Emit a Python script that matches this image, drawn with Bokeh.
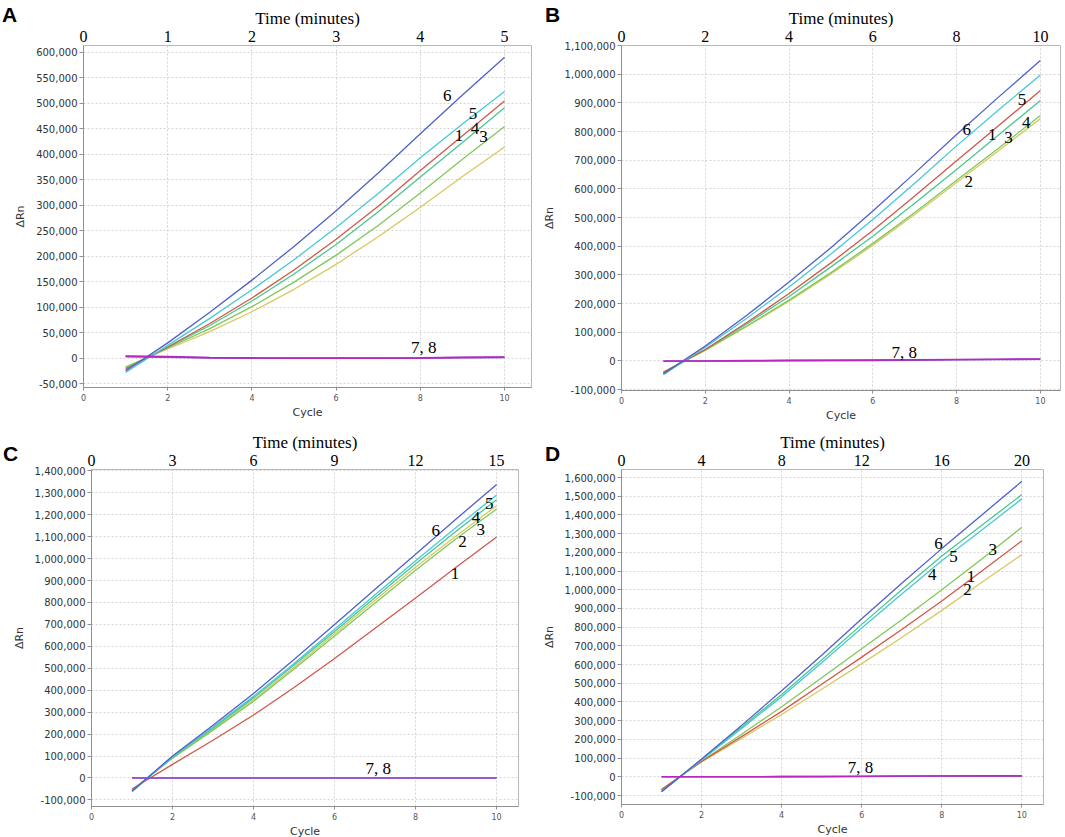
from bokeh.plotting import figure
from bokeh.layouts import column, row
from bokeh.models import (Range1d, LinearAxis, SingleIntervalTicker, FixedTicker,
                          NumeralTickFormatter, ColumnDataSource, GridBox, Div)
from bokeh.core.properties import value
from bokeh.embed import file_html
from bokeh.resources import INLINE

# ---------------- data ----------------
cycles = [1, 2, 3, 4, 5, 6, 7, 8, 9, 10]
series_names = ["1", "2", "3", "4", "5", "6", "7", "8"]

# Panel A (ΔRn)
A_1 = [-22000, 22000, 68000, 118000, 173000, 233000, 298000, 368000, 436000, 504000]
A_2 = [-17000, 18000, 52000, 91000, 135000, 184000, 238000, 296000, 356000, 414000]
A_3 = [-18000, 20000, 58000, 101000, 149000, 202000, 260000, 324000, 390000, 454000]
A_4 = [-20000, 21000, 64000, 112000, 165000, 223000, 287000, 355000, 423000, 491000]
A_5 = [-28000, 25000, 78000, 134000, 193000, 256000, 323000, 393000, 459000, 523000]
A_6 = [-25000, 30000, 90000, 153000, 219000, 289000, 363000, 440000, 516000, 590000]
A_7 = [4000, 3000, 1000, 500, 0, 0, 0, 500, 1500, 2000]
A_8 = [3000, 2000, 500, 0, 0, 0, 0, 0, 1000, 1500]

# Panel B
B_1 = [-40000, 40000, 135000, 235000, 342000, 455000, 575000, 698000, 820000, 943000]
B_2 = [-38000, 37000, 121000, 208000, 303000, 404000, 511000, 622000, 733000, 845000]
B_3 = [-40000, 38000, 123000, 212000, 308000, 410000, 518000, 630000, 742000, 856000]
B_4 = [-42000, 40000, 130000, 225000, 328000, 435000, 550000, 668000, 788000, 908000]
B_5 = [-48000, 48000, 150000, 258000, 373000, 493000, 620000, 750000, 875000, 997000]
B_6 = [-45000, 52000, 160000, 275000, 395000, 523000, 655000, 790000, 920000, 1048000]
B_7 = [0, 0, 1000, 2000, 2000, 3000, 4000, 5000, 6000, 7000]
B_8 = [-1000, 0, 0, 1000, 2000, 2000, 3000, 4000, 5000, 6000]

# Panel C
C_1 = [-50000, 62000, 172000, 287000, 412000, 545000, 682000, 820000, 960000, 1098000]
C_2 = [-55000, 92000, 222000, 357000, 505000, 657000, 810000, 960000, 1103000, 1241000]
C_3 = [-55000, 90000, 218000, 350000, 497000, 647000, 798000, 947000, 1090000, 1226000]
C_4 = [-62000, 96000, 228000, 365000, 515000, 668000, 823000, 976000, 1125000, 1268000]
C_5 = [-62000, 97000, 232000, 372000, 522000, 678000, 835000, 990000, 1142000, 1290000]
C_6 = [-60000, 100000, 240000, 385000, 540000, 700000, 860000, 1020000, 1180000, 1338000]
C_7 = [0, 0, 0, 0, 0, 0, 0, 0, 0, 0]
C_8 = [0, 0, 0, 0, 0, 0, 0, 0, 0, 0]

# Panel D
D_1 = [-68000, 82000, 215000, 350000, 495000, 640000, 788000, 940000, 1100000, 1262000]
D_2 = [-66000, 80000, 205000, 333000, 468000, 605000, 745000, 890000, 1040000, 1188000]
D_3 = [-72000, 85000, 228000, 375000, 530000, 685000, 840000, 1000000, 1165000, 1334000]
D_4 = [-78000, 93000, 265000, 440000, 625000, 815000, 1000000, 1180000, 1345000, 1509000]
D_5 = [-80000, 90000, 258000, 428000, 610000, 795000, 978000, 1155000, 1320000, 1486000]
D_6 = [-80000, 95000, 275000, 460000, 650000, 845000, 1035000, 1220000, 1400000, 1580000]
D_7 = [0, 0, 0, 1000, 2000, 3000, 4000, 4000, 5000, 5000]
D_8 = [0, 0, 0, 1000, 1000, 2000, 3000, 4000, 4000, 5000]

# curve annotations (text, cycle, ΔRn)
A_lab_text = ["6", "5", "1", "4", "3", "7, 8"]
A_lab_x = [8.64, 9.25, 8.92, 9.3, 9.5, 8.08]
A_lab_y = [515000, 480000, 437000, 450000, 434000, 21000]

B_lab_text = ["6", "5", "1", "3", "4", "2", "7, 8"]
B_lab_x = [8.24, 9.56, 8.85, 9.24, 9.66, 8.29, 6.75]
B_lab_y = [807000, 911000, 790000, 780000, 831000, 625000, 29000]

C_lab_text = ["6", "5", "4", "3", "2", "1", "7, 8"]
C_lab_x = [8.5, 9.82, 9.49, 9.61, 9.16, 8.97, 7.08]
C_lab_y = [1127000, 1250000, 1187000, 1133000, 1078000, 930000, 45000]

D_lab_text = ["6", "5", "4", "3", "1", "2", "7, 8"]
D_lab_x = [7.92, 8.29, 7.76, 9.27, 8.73, 8.64, 5.97]
D_lab_y = [1248000, 1176000, 1082000, 1215000, 1073000, 1002000, 48000]

cycle_ticks = [0, 2, 4, 6, 8, 10]
panel_letters = ["A", "B", "C", "D"]

colors = {"1": "#d0584a", "2": "#d8c860", "3": "#80c858", "4": "#48c890",
          "5": "#48c8d8", "6": "#5060c8", "7": "#b828c0", "8": "#8050c8"}

SERIF = "Liberation Serif"
SANS = "DejaVu Sans"


def make_panel(data, labels, xend, ylo, yhi, yint, tfac, tint,
               fw, fh, bl, br, bt, bb, flat_color=None):
    p = figure(frame_width=fw, frame_height=fh, output_backend="svg",
               toolbar_location=None,
               x_range=Range1d(0, xend), y_range=Range1d(ylo, yhi),
               min_border_left=bl, min_border_right=br, min_border_bottom=bb,
               min_border_top=bt)
    p.outline_line_color = "#b8b8b8"
    p.background_fill_color = "white"
    p.border_fill_color = "white"

    # bottom axis
    xa = p.xaxis[0]
    xa.ticker = FixedTicker(ticks=cycle_ticks)
    xa.axis_label = "Cycle"
    xa.axis_label_text_font = SANS
    xa.axis_label_text_font_size = "11px"
    xa.axis_label_text_font_style = "normal"
    xa.axis_label_text_color = "#333333"
    xa.axis_label_standoff = 2
    xa.major_label_text_font = SANS
    xa.major_label_text_font_size = "8px"
    xa.major_label_text_color = "#555555"
    xa.major_label_standoff = 3
    xa.major_tick_out = 3
    xa.major_tick_in = 0
    xa.minor_tick_line_color = None
    xa.axis_line_color = "#909090"
    xa.major_tick_line_color = "#909090"

    # left axis
    ya = p.yaxis[0]
    ya.ticker = SingleIntervalTicker(interval=yint)
    ya.formatter = NumeralTickFormatter(format="0,0")
    ya.axis_label = "ΔRn"
    ya.axis_label_text_font = SANS
    ya.axis_label_text_font_size = "11px"
    ya.axis_label_text_font_style = "normal"
    ya.axis_label_text_color = "#333333"
    ya.axis_label_standoff = 6
    ya.major_label_text_font = SANS
    ya.major_label_text_font_size = "10px"
    ya.major_label_text_color = "#333333"
    ya.major_label_standoff = 2
    ya.major_tick_out = 4
    ya.major_tick_in = 0
    ya.minor_tick_line_color = None
    ya.axis_line_color = "#909090"
    ya.major_tick_line_color = "#909090"

    # grids
    p.xgrid.ticker = FixedTicker(ticks=cycle_ticks)
    p.ygrid.ticker = SingleIntervalTicker(interval=yint)
    for g in (p.xgrid, p.ygrid):
        g.grid_line_color = "#d4d4d4"
        g.grid_line_dash = "2 2"
        g.grid_line_width = 1

    # top time axis
    p.extra_x_ranges = {"time": Range1d(0, xend * tfac)}
    ta = LinearAxis(x_range_name="time", ticker=SingleIntervalTicker(interval=tint),
                    axis_label="Time (minutes)")
    ta.axis_label_text_font = SERIF
    ta.axis_label_text_font_size = "17px"
    ta.axis_label_text_font_style = "normal"
    ta.axis_label_text_color = "black"
    ta.axis_label_standoff = 0
    ta.major_label_text_font = SERIF
    ta.major_label_text_font_size = "16px"
    ta.major_label_text_color = "black"
    ta.major_label_standoff = 0
    ta.major_tick_line_color = None
    ta.minor_tick_line_color = None
    ta.axis_line_color = None
    ta.major_tick_out = 0
    ta.major_tick_in = 0
    p.add_layout(ta, "above")

    # curves (7, 8 drawn last)
    for name in ["2", "3", "4", "1", "5", "6", "8", "7"]:
        if name in ("7", "8"):
            col = flat_color or colors[name]
            lw = 1.6
        else:
            col = colors[name]
            lw = 1.3
        p.line(cycles, data[name], line_color=col, line_width=lw)

    txt, lx, ly = labels
    src = ColumnDataSource(dict(x=lx, y=ly, t=txt))
    p.text(x="x", y="y", text="t", source=src, text_font=value(SERIF),
           text_font_size="17px", text_color="black", text_align="center",
           text_baseline="middle")
    return p


def with_letter(p, text, mtop, mleft):
    dv = Div(text=text, width=22, height=24, margin=(mtop, 0, 0, mleft),
             styles={"font-family": "Liberation Sans, Arial, sans-serif",
                     "font-size": "21px", "font-weight": "bold",
                     "line-height": "1", "color": "black"})
    return GridBox(children=[(p, 0, 0), (dv, 0, 0)], spacing=0)


dA = dict(zip(series_names, [A_1, A_2, A_3, A_4, A_5, A_6, A_7, A_8]))
dB = dict(zip(series_names, [B_1, B_2, B_3, B_4, B_5, B_6, B_7, B_8]))
dC = dict(zip(series_names, [C_1, C_2, C_3, C_4, C_5, C_6, C_7, C_8]))
dD = dict(zip(series_names, [D_1, D_2, D_3, D_4, D_5, D_6, D_7, D_8]))

pA = make_panel(dA, (A_lab_text, A_lab_x, A_lab_y), 10.64, -57500, 613000, 50000,
                0.5, 1, 448, 342, 83, 4, 45, 33)
pB = make_panel(dB, (B_lab_text, B_lab_x, B_lab_y), 10.48, -103000, 1100000, 100000,
                1.0, 2, 439, 345, 86, 5, 45, 30)
pC = make_panel(dC, (C_lab_text, C_lab_x, C_lab_y), 10.54, -130000, 1406000, 100000,
                1.5, 3, 427, 337, 91, 17, 45, 31, flat_color="#9050d0")
pD = make_panel(dD, (D_lab_text, D_lab_x, D_lab_y), 10.54, -148000, 1643000, 100000,
                2.0, 4, 422, 335, 86, 22, 45, 33)

gA = with_letter(pA, panel_letters[0], 4, 2)
gB = with_letter(pB, panel_letters[1], 4, 10)
gC = with_letter(pC, panel_letters[2], 19, 3)
gD = with_letter(pD, panel_letters[3], 19, 10)

layout = column(row(gA, gB), row(gC, gD))
open("out.html", "w").write(file_html(layout, INLINE))
